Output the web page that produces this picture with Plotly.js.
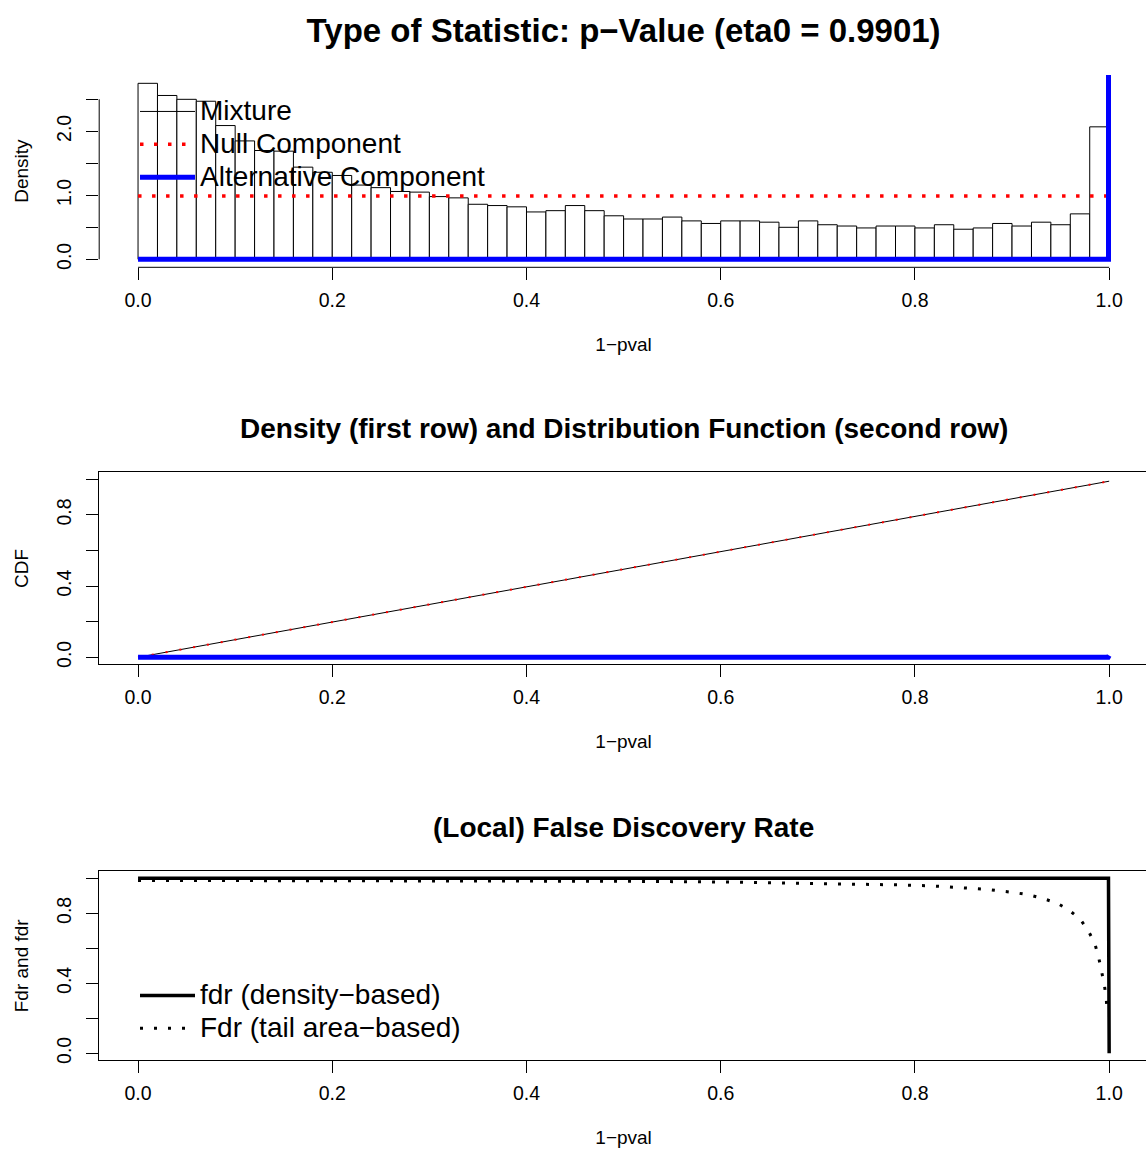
<!DOCTYPE html>
<html><head><meta charset="utf-8">
<script src="https://cdn.plot.ly/plotly-3.0.1.min.js"></script>
<style>html,body{margin:0;padding:0;overflow:hidden;background:#fff}</style>
</head><body><div id="chart"></div>
<script>
// ---------- data ----------
const breaks = [0,0.02,0.04,0.06,0.08,0.10,0.12,0.14,0.16,0.18,0.20,0.22,0.24,0.26,0.28,0.30,0.32,0.34,0.36,0.38,0.40,0.42,0.44,0.46,0.48,0.50,0.52,0.54,0.56,0.58,0.60,0.62,0.64,0.66,0.68,0.70,0.72,0.74,0.76,0.78,0.80,0.82,0.84,0.86,0.88,0.90,0.92,0.94,0.96,0.98,1.00];
const histDensity = [2.75,2.56,2.50,2.47,2.09,1.85,1.70,1.69,1.44,1.36,1.31,1.16,1.12,1.06,1.05,0.98,0.96,0.86,0.84,0.82,0.74,0.76,0.84,0.76,0.68,0.63,0.63,0.66,0.60,0.56,0.60,0.60,0.58,0.50,0.60,0.54,0.52,0.49,0.52,0.52,0.49,0.54,0.47,0.49,0.56,0.52,0.58,0.54,0.71,2.07];
const nullDensX = [0, 1];
const nullDensY = [0.9901, 0.9901];
const altDensX = [0, 0.9993, 0.9993];
const altDensY = [0, 0, 3.5];
const cdfX = [0, 1];
const mixCdfY = [0, 0.99];
const nullCdfY = [0, 0.9901];
const altCdfX = [0, 0.999, 1];
const altCdfY = [0, 0, 0.0099];
const fdrX = [0, 0.9993, 1.0];
const fdrY = [1.0, 1.0, 0.0];
const FdrX = [0, 0.2, 0.4, 0.5, 0.6, 0.7, 0.744, 0.787, 0.816, 0.845, 0.874, 0.903, 0.918, 0.932, 0.946, 0.958, 0.970, 0.978, 0.985, 0.989, 0.992, 0.995, 0.997, 0.998];
const FdrY = [0.988, 0.987, 0.985, 0.983, 0.979, 0.972, 0.967, 0.962, 0.957, 0.949, 0.937, 0.918, 0.905, 0.884, 0.859, 0.821, 0.768, 0.705, 0.631, 0.553, 0.473, 0.393, 0.313, 0.233];
const xTickVals = [0, 0.2, 0.4, 0.6, 0.8, 1.0];
const xTickText = ["0.0", "0.2", "0.4", "0.6", "0.8", "1.0"];
const y1TickVals = [0, 0.5, 1, 1.5, 2, 2.5];
const y1TickText = ["0.0", "", "1.0", "", "2.0", ""];
const y23TickVals = [0, 0.2, 0.4, 0.6, 0.8, 1.0];
const y23TickText = ["0.0", "", "0.4", "", "0.8", ""];

// ---------- layout helpers ----------
const W = 1150, H = 1151;
const px = v => v / W;
const py = v => (H - v) / H;
const FONT = '"Liberation Sans", Arial, Helvetica, sans-serif';
const xDom = [px(99.2), px(1148)];

const binMid = histDensity.map((_, i) => (breaks[i] + breaks[i + 1]) / 2);
const binW = histDensity.map((_, i) => breaks[i + 1] - breaks[i]);

const big = t => '<span style="font-size:28px">' + t + '</span>';

const traces = [
  {type: 'bar', x: binMid, y: histDensity, width: binW, name: 'Mixture', showlegend: false,
   marker: {color: '#ffffff', line: {color: '#000', width: 1}}, xaxis: 'x', yaxis: 'y', hoverinfo: 'x+y'},
  {type: 'scatter', mode: 'lines', x: [null], y: [null], name: big('Mixture'), legend: 'legend',
   line: {color: '#000', width: 1}, xaxis: 'x', yaxis: 'y'},
  {type: 'scatter', mode: 'lines', x: nullDensX, y: nullDensY, name: big('Null Component'), legend: 'legend',
   line: {color: '#ff0000', width: 3.5, dash: '3.5px,10.5px'}, xaxis: 'x', yaxis: 'y'},
  {type: 'scatter', mode: 'lines', x: altDensX, y: altDensY, name: big('Alternative Component'), legend: 'legend',
   line: {color: '#0000ff', width: 5}, xaxis: 'x', yaxis: 'y'},

  {type: 'scatter', mode: 'lines', x: cdfX, y: mixCdfY, name: 'Mixture CDF', showlegend: false,
   line: {color: '#000', width: 1}, xaxis: 'x2', yaxis: 'y2'},
  {type: 'scatter', mode: 'lines', x: cdfX, y: nullCdfY, name: 'Null CDF', showlegend: false,
   line: {color: '#ff0000', width: 2, dash: '2px,12px'}, xaxis: 'x2', yaxis: 'y2'},
  {type: 'scatter', mode: 'lines', x: altCdfX, y: altCdfY, name: 'Alternative CDF', showlegend: false,
   line: {color: '#0000ff', width: 5}, xaxis: 'x2', yaxis: 'y2'},

  {type: 'scatter', mode: 'lines', x: fdrX, y: fdrY, name: big('fdr (density−based)'), legend: 'legend2',
   line: {color: '#000', width: 3.5}, xaxis: 'x3', yaxis: 'y3'},
  {type: 'scatter', mode: 'lines', x: FdrX, y: FdrY, name: big('Fdr (tail area−based)'), legend: 'legend2',
   line: {color: '#000', width: 3, dash: '3px,11px'}, xaxis: 'x3', yaxis: 'y3'}
];

function xAxis(anchor, box) {
  return {
    domain: xDom, anchor: anchor, range: [-0.04, 1.04], autorange: false,
    tickmode: 'array', tickvals: xTickVals, ticktext: xTickText,
    ticks: 'outside', ticklen: 12, tickwidth: 1, tickcolor: '#000',
    ticklabelstandoff: 3,
    tickfont: {size: 19.5, family: FONT, color: '#000'},
    showline: box, mirror: box, linecolor: '#000', linewidth: 1,
    showgrid: false, zeroline: false, automargin: false,
    title: {text: '1−pval', font: {size: 19, family: FONT, color: '#000'}, standoff: 27}
  };
}
function yAxis(anchor, dom, range, vals, text, label, box) {
  return {
    domain: dom, anchor: anchor, range: range, autorange: false,
    tickmode: 'array', tickvals: vals, ticktext: text, tickangle: -90,
    ticks: 'outside', ticklen: 12, tickwidth: 1, tickcolor: '#000',
    ticklabelstandoff: 7,
    tickfont: {size: 19.5, family: FONT, color: '#000'},
    showline: box, mirror: box, linecolor: '#000', linewidth: 1,
    showgrid: false, zeroline: false, automargin: false,
    title: {text: label, font: {size: 19, family: FONT, color: '#000'}, standoff: 19}
  };
}

const legendCommon = {
  xanchor: 'left', yanchor: 'top', bgcolor: 'rgba(0,0,0,0)', borderwidth: 0,
  font: {size: 23, family: FONT, color: '#000'}, itemwidth: 55, traceorder: 'normal',
  itemclick: false, itemdoubleclick: false
};

const layout = {
  width: W, height: H,
  margin: {l: 0, r: 0, t: 0, b: 0, pad: 0},
  paper_bgcolor: '#ffffff', plot_bgcolor: 'rgba(0,0,0,0)',
  font: {family: FONT, size: 19, color: '#000'},
  showlegend: true,
  barmode: 'overlay', bargap: 0,
  title: {text: 'Type of Statistic: p−Value (eta0 = 0.9901)',
          font: {size: 33, family: FONT, color: '#000', weight: 'bold'},
          xref: 'paper', yref: 'paper', x: px(623.6), xanchor: 'center', y: py(30), yanchor: 'middle'},
  xaxis: xAxis('y', false),
  yaxis: yAxis('x', [py(267.3), py(75)], [-0.125, 2.88], y1TickVals, y1TickText, 'Density', false),
  xaxis2: xAxis('y2', true),
  yaxis2: yAxis('x2', [py(664.4), py(472.3)], [-0.04, 1.04], y23TickVals, y23TickText, 'CDF', true),
  xaxis3: xAxis('y3', true),
  yaxis3: yAxis('x3', [py(1060.3), py(871.3)], [-0.04, 1.04], y23TickVals, y23TickText, 'Fdr and fdr', true),
  legend: Object.assign({x: px(135), y: py(90)}, legendCommon),
  legend2: Object.assign({x: px(135), y: py(974)}, legendCommon),
  shapes: [
    {type: 'line', xref: 'x', yref: 'y domain', x0: xTickVals[0], x1: xTickVals[xTickVals.length - 1], y0: 0, y1: 0,
     line: {color: '#000', width: 1}},
    {type: 'line', xref: 'x domain', yref: 'y', x0: 0, x1: 0, y0: y1TickVals[0], y1: y1TickVals[y1TickVals.length - 1],
     line: {color: '#000', width: 1}}
  ],
  annotations: [
    {text: 'Density (first row) and Distribution Function (second row)', xref: 'paper', yref: 'paper',
     x: px(623.6), y: py(428), xanchor: 'center', yanchor: 'middle', showarrow: false,
     font: {size: 28, family: FONT, color: '#000', weight: 'bold'}},
    {text: '(Local) False Discovery Rate', xref: 'paper', yref: 'paper',
     x: px(623.6), y: py(827), xanchor: 'center', yanchor: 'middle', showarrow: false,
     font: {size: 28, family: FONT, color: '#000', weight: 'bold'}}
  ]
};

Plotly.newPlot('chart', traces, layout, {staticPlot: true, displayModeBar: false});
</script>
</body></html>
